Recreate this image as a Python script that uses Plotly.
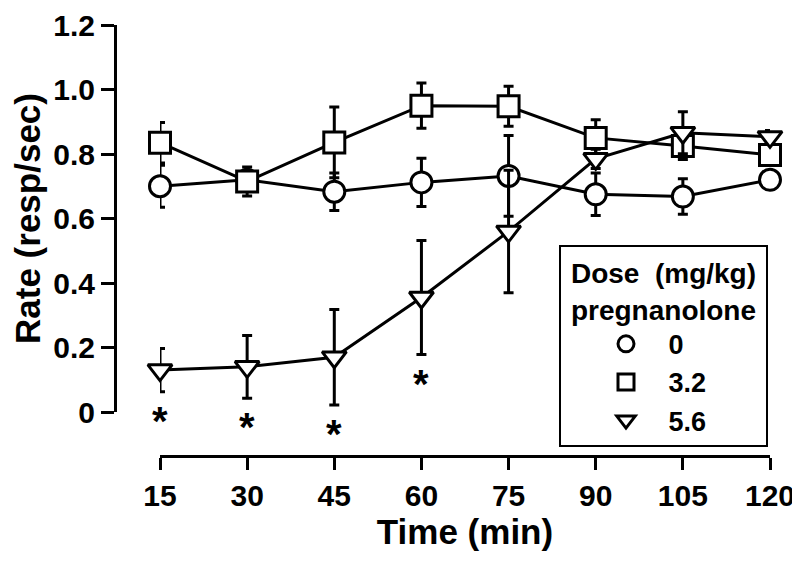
import plotly.graph_objects as go

time_min = [15, 30, 45, 60, 75, 90, 105, 120]

rate_0 = [0.70, 0.72, 0.683, 0.712, 0.732, 0.675, 0.668, 0.72]
sem_0 = [0.065, 0.02, 0.058, 0.075, 0.125, 0.066, 0.055, 0.02]

rate_32 = [0.835, 0.715, 0.836, 0.95, 0.948, 0.85, 0.825, 0.797]
sem_32 = [0.063, 0.045, 0.11, 0.07, 0.062, 0.056, 0.042, 0.03]

rate_56 = [0.13, 0.14, 0.17, 0.355, 0.56, 0.785, 0.866, 0.853]
sem_56 = [0.067, 0.097, 0.148, 0.177, 0.19, 0.03, 0.065, 0.02]

dose_labels = ["0", "3.2", "5.6"]
symbols = ["circle", "square", "triangle-down"]
star_idx = [0, 1, 2, 3]  # significant points of the 5.6 mg/kg series

x_ticks = [15, 30, 45, 60, 75, 90, 105, 120]
y_ticks = [0, 0.2, 0.4, 0.6, 0.8, 1.0, 1.2]
y_ticktext = ["0", "0.2", "0.4", "0.6", "0.8", "1.0", "1.2"]

FONT = "Liberation Sans, Arial, sans-serif"

fig = go.Figure()
series = [(rate_0, sem_0), (rate_32, sem_32), (rate_56, sem_56)]

for (r, s), lab in zip(series, dose_labels):
    fig.add_trace(go.Scatter(
        x=time_min, y=r, mode="lines", showlegend=False, hoverinfo="skip",
        line=dict(color="black", width=3), cliponaxis=False,
    ))

for (r, s), lab, sym in zip(series, dose_labels, symbols):
    fig.add_trace(go.Scatter(
        x=time_min, y=r, mode="markers", name="\u00a0\u00a0\u00a0" + lab,
        marker=dict(symbol=sym, size=21, color="white",
                    line=dict(color="black", width=3)),
        error_y=dict(type="data", array=s, visible=True, color="black",
                     thickness=3, width=5),
        cliponaxis=False,
    ))

for i in star_idx:
    fig.add_annotation(
        x=time_min[i], y=rate_56[i] - sem_56[i], xref="x", yref="y",
        text="*", showarrow=False, yanchor="middle", yshift=-29,
        font=dict(family=FONT, size=40, color="black", weight="bold"),
    )

# page has an 8px body margin; figure pixel coords = page coords - 8
OFF = 8
TOP_PAGE = 25      # page y of the 1.2 tick
W, H = 800 - OFF, 563 - OFF
L = 115 - OFF
T = TOP_PAGE - OFF
R = W - (770 - OFF)
B = H - (456 - OFF)
pw, ph = W - L - R, H - T - B
x_dom0 = (160 - 115) / pw
y_dom0 = (456 - 412) / ph

fig.update_layout(
    width=W, height=H,
    margin=dict(l=L, r=R, t=T, b=B, autoexpand=False),
    paper_bgcolor="white", plot_bgcolor="white",
    font=dict(family=FONT, color="black", weight="bold"),
    xaxis=dict(
        domain=[x_dom0, 1], range=[15, 120], anchor="free", position=0,
        automargin=False, ticklabeloverflow="allow",
        tickvals=x_ticks, ticks="outside", ticklen=12, tickwidth=3,
        tickcolor="black", showline=True, linewidth=3, linecolor="black",
        showgrid=False, zeroline=False,
        tickfont=dict(family=FONT, size=30, color="black", weight="bold"),
        title=dict(text="Time (min)", standoff=8,
                   font=dict(family=FONT, size=35, color="black", weight="bold")),
    ),
    yaxis=dict(
        domain=[y_dom0, 1], range=[0, 1.2], anchor="free", position=0,
        automargin=False, ticklabeloverflow="allow",
        tickvals=y_ticks, ticktext=y_ticktext, ticks="outside", ticklen=13,
        tickwidth=3, tickcolor="black", showline=True, linewidth=3,
        linecolor="black", showgrid=False, zeroline=False,
        tickfont=dict(family=FONT, size=30, color="black", weight="bold"),
        title=dict(text="Rate (resp/sec)", standoff=8,
                   font=dict(family=FONT, size=35, color="black", weight="bold")),
    ),
    legend=dict(
        x=(559 - 115) / pw, y=(456 - 245) / ph, xanchor="left", yanchor="top",
        bgcolor="white", bordercolor="black", borderwidth=2,
        font=dict(family=FONT, size=27, color="black", weight="bold"),
        title=dict(text="\u00a0Dose\u00a0\u00a0(mg/kg)\u00a0<br>\u00a0pregnanolone\u00a0",
                   side="top center",
                   font=dict(family=FONT, size=28, color="black", weight="bold")),
        indentation=45, tracegroupgap=0,
    ),
    showlegend=True,
)

fig.write_html("out.html")
